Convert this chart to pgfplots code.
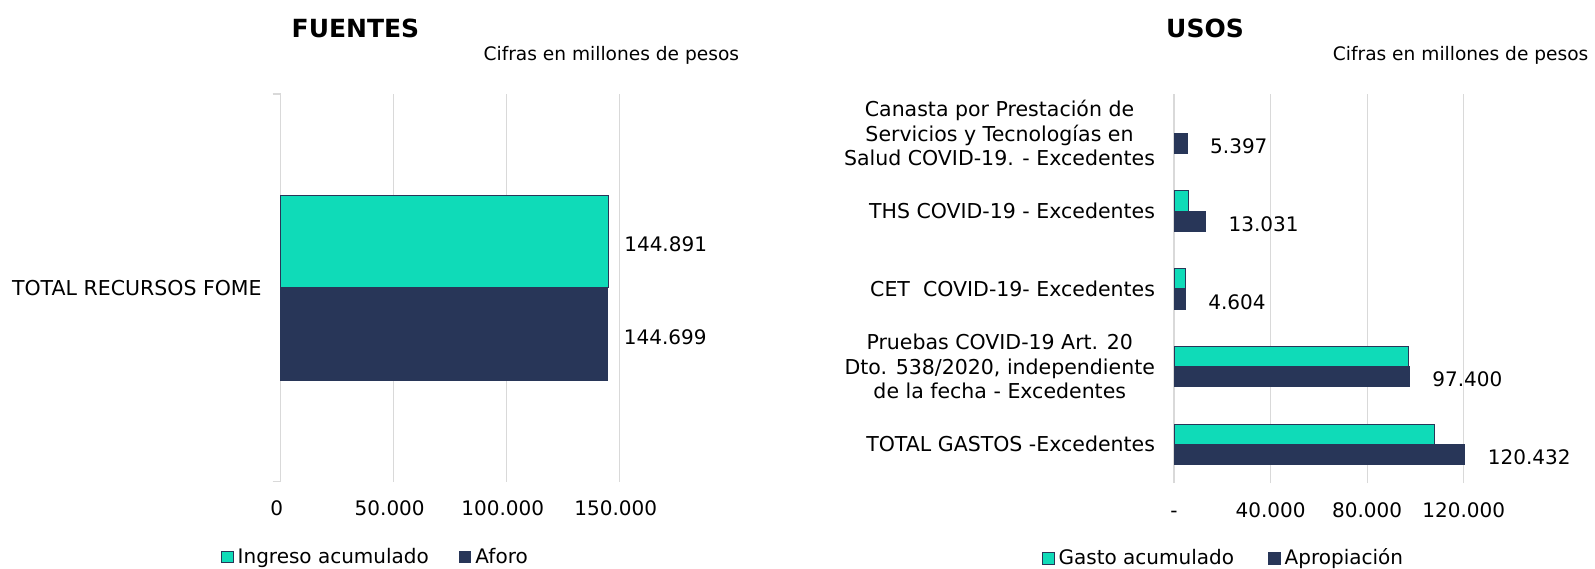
\documentclass[border=0pt]{standalone}
\usepackage{pgfplots}
\pgfplotsset{compat=1.18}
\usepackage{fontspec}
\setmainfont{DejaVu Sans}
\definecolor{teal1}{HTML}{0FDBB8}
\definecolor{navy1}{HTML}{283658}
\definecolor{gridc}{HTML}{D9D9D9}
\newcommand{\tf}{\fontsize{10}{12.2}\selectfont}
\newcommand{\yf}{\fontsize{10.25}{12.2}\selectfont}
\begin{document}
\begin{tikzpicture}
\useasboundingbox (0,0) rectangle (797.5pt,284pt);
% ---------------- FUENTES ----------------
\begin{axis}[
  at={(140.35pt,43.15pt)}, anchor=south west,
  scale only axis, width=169.5pt, height=193.85pt,
  xbar, bar width=0.239,
  xmin=0, xmax=150000, ymin=-0.5, ymax=0.5,
  xtick={0,50000,100000,150000},
  xticklabels={0,50.000,100.000,150.000},
  scaled x ticks=false,
  ytick={0}, yticklabels={TOTAL RECURSOS FOME},
  axis y line*=left, axis x line*=bottom,
  x axis line style={draw=none},
  y axis line style={draw=gridc, line width=0.6pt},
  xmajorgrids, grid style={draw=gridc, line width=0.6pt},
  major tick length=0pt,
  extra y ticks={-0.5,0.5}, extra y tick labels={},
  extra y tick style={major tick length=4pt, tick align=outside},
  tick style={draw=gridc, line width=0.6pt},
  tick label style={font=\tf},
  xticklabel style={yshift=-6pt, xshift=-2pt},
  yticklabel style={xshift=-6pt, font=\yf},
  clip=false,
  legend columns=2,
  legend style={draw=none, fill=none, inner sep=0pt, at={(-0.177,-0.194)}, anchor=west, font=\tf,
    /tikz/every even column/.append style={column sep=13pt}},
  every axis plot post/.append style={legend image code/.code={\draw[##1, line width=0.5pt] (0pt,-2.9pt) rectangle (5.8pt,2.9pt);}},
]
\addplot[fill=teal1, draw=navy1, line width=0.5pt, bar shift=0.1195,
  point meta=explicit symbolic, nodes near coords,
  every node near coord/.append style={font=\tf, anchor=west, xshift=4.5pt, yshift=-1.5pt}]
  coordinates {(144891,0) [144.891]};
\addplot[fill=navy1, draw=navy1, line width=0.5pt, bar shift=-0.1195,
  point meta=explicit symbolic, nodes near coords,
  every node near coord/.append style={font=\tf, anchor=west, xshift=4.5pt, yshift=-1.5pt}]
  coordinates {(144699,0) [144.699]};
\legend{Ingreso acumulado, Aforo}
\end{axis}
% ---------------- USOS ----------------
\begin{axis}[
  at={(587pt,42.4pt)}, anchor=south west,
  scale only axis, width=144.85pt, height=194.4pt,
  xbar, bar width=0.26,
  xmin=0, xmax=120000, ymin=-0.5, ymax=4.5,
  xtick={0,40000,80000,120000},
  xticklabels={{\vphantom{0}-\hspace{12pt}},40.000,80.000,120.000},
  scaled x ticks=false,
  ytick={0,1,2,3,4},
  yticklabels={TOTAL GASTOS -Excedentes,
    {Pruebas COVID-19 Art. 20\\Dto. 538/2020, independiente\\de la fecha - Excedentes},
    {CET\ \ COVID-19- Excedentes},
    {THS COVID-19 - Excedentes},
    {Canasta por Prestación de\\Servicios y Tecnologías en\\Salud COVID-19. - Excedentes}},
  axis line style={draw=none},
  xmajorgrids, grid style={draw=gridc, line width=0.6pt},
  major tick length=0pt,
  tick style={draw=none},
  tick label style={font=\tf},
  xticklabel style={yshift=-6pt},
  yticklabel style={xshift=-6pt, align=center, font=\yf},
  clip=false,
  legend columns=2,
  legend style={draw=none, fill=none, inner sep=0pt, at={(-0.457,-0.193)}, anchor=west, font=\tf,
    /tikz/every even column/.append style={column sep=15pt}},
  every axis plot post/.append style={legend image code/.code={\draw[##1, line width=0.5pt] (0pt,-2.9pt) rectangle (5.8pt,2.9pt);}},
]
\addplot[fill=teal1, draw=navy1, line width=0.5pt, bar shift=0.13]
  coordinates {(107700,0) (97100,1) (4750,2) (6200,3)};
\addplot[fill=navy1, draw=navy1, line width=0.5pt, bar shift=-0.13,
  point meta=explicit symbolic, nodes near coords,
  every node near coord/.append style={font=\tf, anchor=west, xshift=8pt, yshift=-1.5pt}]
  coordinates {(120432,0) [120.432] (97400,1) [97.400] (4604,2) [4.604] (13031,3) [13.031] (5397,4) [5.397]};
\legend{Gasto acumulado, Apropiación}
\end{axis}
% ---------------- titles ----------------
\node[font=\fontsize{12.5}{15}\selectfont\bfseries] at (177.75pt,269.75pt) {FUENTES};
\node[font=\fontsize{12.5}{15}\selectfont\bfseries] at (602.5pt,269.75pt) {USOS};
\node[font=\fontsize{9.3}{11}\selectfont, anchor=east, inner sep=0pt] at (369.75pt,256.5pt) {Cifras en millones de pesos};
\node[font=\fontsize{9.3}{11}\selectfont, anchor=east, inner sep=0pt] at (794.4pt,256.5pt) {Cifras en millones de pesos};
\end{tikzpicture}
\end{document}
